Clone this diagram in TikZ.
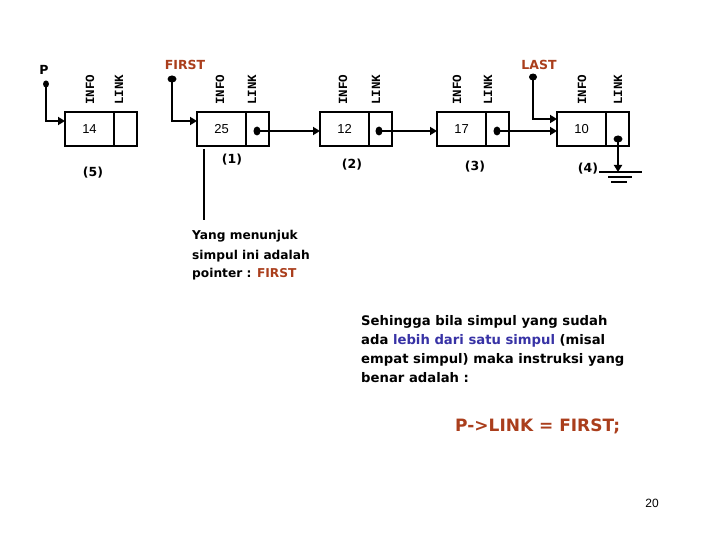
\documentclass[tikz,border=0pt]{standalone}
\usepackage{fontspec}
\setmainfont{DejaVu Sans}
\newfontfamily\monof{Liberation Mono}
\newfontfamily\numf{Liberation Sans}
\usetikzlibrary{arrows.meta,shapes.geometric}
\definecolor{brn}{RGB}{170,62,28}
\definecolor{blu}{RGB}{55,50,165}
\tikzset{
  cell/.style={draw=black,line width=2.2pt,minimum height=34pt,inner sep=0pt,outer sep=0pt,font=\numf\fontsize{13}{15}\selectfont},
  infocell/.style={cell,minimum width=49pt,anchor=west},
  linkcell/.style={cell,minimum width=23pt,anchor=west},
  fld/.style={rotate=90,anchor=west,inner sep=0pt,font=\monof\bfseries\fontsize{12.5}{14}\selectfont},
  ptrdot/.style={ellipse,fill=black,minimum width=7pt,minimum height=9pt,inner sep=0pt},
  conn/.style={line width=2.2pt,-{Triangle[length=7pt,width=8pt]}},
  idx/.style={font=\bfseries\fontsize{12.5}{14}\selectfont,inner sep=0pt},
  ptrname/.style={font=\bfseries\fontsize{12.5}{14}\selectfont,inner sep=0pt,text=brn},
  txt/.style={anchor=base west,inner sep=0pt,font=\bfseries\fontsize{12.2}{14}\selectfont},
  txtb/.style={anchor=base west,inner sep=0pt,font=\bfseries\fontsize{13.2}{15}\selectfont},
}
\begin{document}
\begin{tikzpicture}[x=1pt,y=-1pt]
\useasboundingbox (0,0) rectangle (720,540);
% cells
\node[infocell] (i5) at (65,129) {14};
\node[linkcell] (l5) at (i5.east) {};
\node[infocell] (i1) at (197,129) {25};
\node[linkcell] (l1) at (i1.east) {};
\node[infocell] (i2) at (320,129) {12};
\node[linkcell] (l2) at (i2.east) {};
\node[infocell] (i3) at (437,129) {17};
\node[linkcell] (l3) at (i3.east) {};
\node[infocell] (i4) at (557,129) {10};
\node[linkcell] (l4) at (i4.east) {};
% field labels
\node[fld] (f5a) at (90,105) {INFO};
\node[fld] (f5b) at (119,105) {LINK};
\node[fld] (f1a) at (220,105) {INFO};
\node[fld] (f1b) at (252,105) {LINK};
\node[fld] (f2a) at (343,105) {INFO};
\node[fld] (f2b) at (376,105) {LINK};
\node[fld] (f3a) at (457,105) {INFO};
\node[fld] (f3b) at (488,105) {LINK};
\node[fld] (f4a) at (582,105) {INFO};
\node[fld] (f4b) at (618,105) {LINK};
% indices
\node[idx] (n5) at (93,173) {(5)};
\node[idx] (n1) at (232,160) {(1)};
\node[idx] (n2) at (352,165) {(2)};
\node[idx] (n3) at (475,167) {(3)};
\node[idx] (n4) at (588,169) {(4)};
% pointers
\node[font=\bfseries\fontsize{12.5}{14}\selectfont,inner sep=0pt] (pl) at (44,70) {P};
\node[ptrdot,minimum width=6pt,minimum height=7pt] (pd) at (46,84) {};
\node[ptrname] (fl) at (185,65) {FIRST};
\node[ptrdot,minimum width=9pt,minimum height=7pt] (fd) at (172,79) {};
\node[ptrname] (ll) at (539,65) {LAST};
\node[ptrdot,minimum width=8pt,minimum height=7pt] (ld) at (533,77) {};
\draw[conn] (pd.center) |- ([yshift=8pt]i5.west);
\draw[conn] (fd.center) |- ([yshift=8pt]i1.west);
\draw[conn] (ld.center) |- ([yshift=10pt]i4.west);
% link dots
\node[ptrdot] (d1) at (257,131) {};
\node[ptrdot] (d2) at (379,131) {};
\node[ptrdot] (d3) at (497,131) {};
\node[ptrdot,minimum width=9pt,minimum height=7pt] (d4) at (618,139) {};
\draw[conn] (d1.center) -- (d1.center -| i2.west);
\draw[conn] (d2.center) -- (d2.center -| i3.west);
\draw[conn] (d3.center) -- (d3.center -| i4.west);
% ground
\coordinate (g) at (618,172);
\draw[conn] (d4.center) -- (g);
\draw[line width=2.2pt] ([xshift=-19pt]g) -- ([xshift=24pt]g);
\draw[line width=1.3pt] (608,177) -- (632,177);
\draw[line width=1.3pt] (611,182) -- (627,182);
% callout line
\coordinate (ce) at (204,220);
\draw[line width=2.2pt] ([xshift=7pt,yshift=-3pt]i1.south west) -- (ce);
% texts
\node[txt] (t1) at (192,240) {Yang menunjuk};
\node[txt] (t2) at (192,259) {simpul ini adalah};
\node[txt] (t3) at (192,277) {pointer : \textcolor{brn}{FIRST}};
\node[txtb] (r1) at (361,325) {Sehingga bila simpul yang sudah};
\node[txtb] (r2) at (361,344) {ada \textcolor{blu}{lebih dari satu simpul} (misal};
\node[txtb] (r3) at (361,363) {empat simpul) maka instruksi yang};
\node[txtb] (r4) at (361,382) {benar adalah :};
\node[anchor=base west,inner sep=0pt,text=brn,font=\bfseries\fontsize{17}{20}\selectfont] (code) at (455,431) {P->LINK = FIRST;};
\node[inner sep=0pt,font=\numf\fontsize{12}{14}\selectfont] (pg) at (652,503) {20};
\end{tikzpicture}
\end{document}
